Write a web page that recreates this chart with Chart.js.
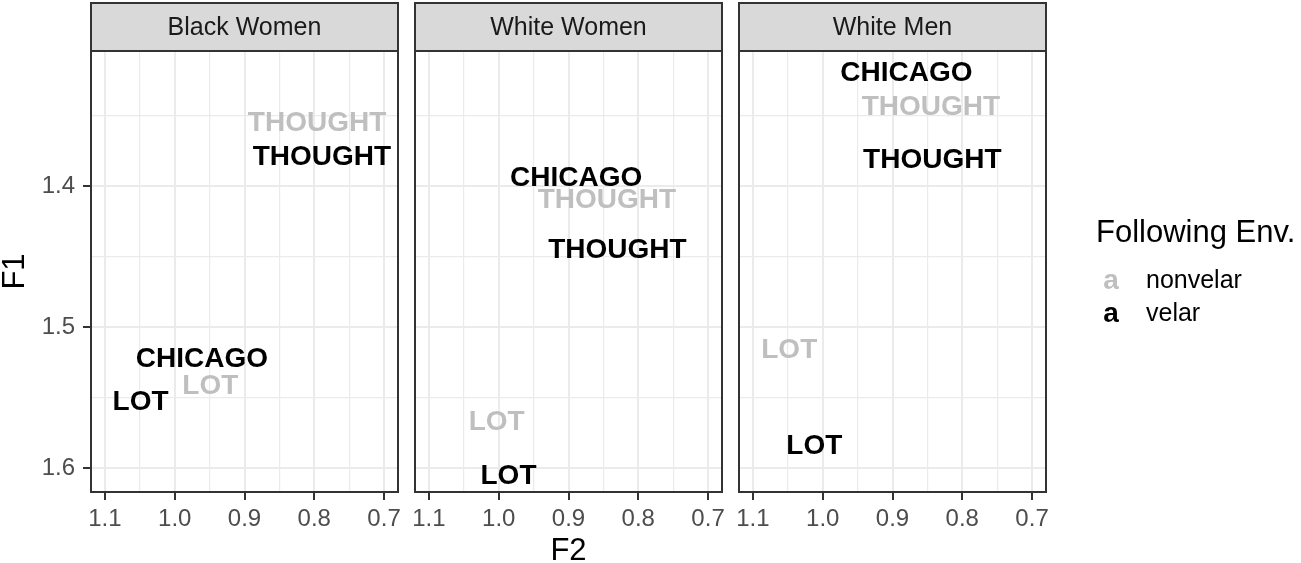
<!DOCTYPE html>
<html>
<head>
<meta charset="utf-8">
<script src="https://cdn.jsdelivr.net/npm/chart.js@4.4.1/dist/chart.umd.min.js"></script>
<style>
  body { margin: 0; background: #fff; }
  #wrap { position: relative; width: 1301px; height: 563px; overflow: hidden; }
  #wrap canvas { position: absolute; top: 0; }
</style>
</head>
<body>
<div id="wrap">
  <canvas id="bw" width="406" height="563" style="left:0px"></canvas>
  <canvas id="ww" width="324" height="563" style="left:406px"></canvas>
  <canvas id="wm" width="571" height="563" style="left:730px"></canvas>
</div>
<script>
const FONT = '"Liberation Sans", Arial, Helvetica, sans-serif';

const envNames = ['nonvelar', 'velar'];
const envColors = ['#bfbfbf', '#000000'];

const nonvelarWords = ['THOUGHT', 'LOT'];
const velarWords = ['THOUGHT', 'CHICAGO', 'LOT'];

// Black Women
const bwNonvelarF2 = [0.796, 0.949];
const bwNonvelarF1 = [1.354, 1.540];
const bwVelarF2 = [0.789, 0.961, 1.049];
const bwVelarF1 = [1.378, 1.521, 1.552];

// White Women
const wwNonvelarF2 = [0.845, 1.003];
const wwNonvelarF1 = [1.408, 1.566];
const wwVelarF2 = [0.830, 0.889, 0.986];
const wwVelarF1 = [1.444, 1.393, 1.604];

// White Men
const wmNonvelarF2 = [0.845, 1.048];
const wmNonvelarF1 = [1.342, 1.515];
const wmVelarF2 = [0.843, 0.880, 1.012];
const wmVelarF1 = [1.380, 1.318, 1.583];

const f2Ticks = [0.7, 0.8, 0.9, 1.0, 1.1];
const f2Minor = [0.75, 0.85, 0.95, 1.05];
const f1Ticks = [1.4, 1.5, 1.6];
const f1Minor = [1.35, 1.45, 1.55];

function pts(xs, ys) {
  return xs.map((x, i) => ({ x: x, y: ys[i] }));
}

// strip, panel border and word labels
const facetPlugin = {
  id: 'facet',
  beforeDraw(chart, args, o) {
    const a = chart.chartArea, ctx = chart.ctx;
    ctx.save();
    ctx.fillStyle = '#d9d9d9';
    ctx.fillRect(a.left, 3, a.right - a.left, a.top - 3);
    ctx.strokeStyle = '#333333';
    ctx.lineWidth = 2;
    ctx.strokeRect(a.left, 3, a.right - a.left, a.top - 3);
    ctx.fillStyle = '#1a1a1a';
    ctx.font = '25px ' + FONT;
    ctx.textAlign = 'center';
    ctx.textBaseline = 'middle';
    ctx.fillText(o.title, (a.left + a.right) / 2, (a.top + 3) / 2 + 1);
    ctx.restore();
  },
  afterDatasetsDraw(chart) {
    const ctx = chart.ctx;
    ctx.save();
    ctx.font = 'bold 28px ' + FONT;
    ctx.textAlign = 'center';
    // centre the capitals on the point
    ctx.textBaseline = 'alphabetic';
    const half = 28 * 0.716 / 2;
    chart.data.datasets.forEach((ds, di) => {
      const meta = chart.getDatasetMeta(di);
      ctx.fillStyle = ds.textColor;
      meta.data.forEach((el, i) => ctx.fillText(ds.words[i], el.x, el.y + half));
    });
    ctx.restore();
  },
  afterDraw(chart) {
    const a = chart.chartArea, ctx = chart.ctx;
    ctx.save();
    ctx.strokeStyle = '#333333';
    ctx.lineWidth = 2;
    ctx.strokeRect(a.left, a.top, a.right - a.left, a.bottom - a.top);
    ctx.restore();
  }
};

const legendPlugin = {
  id: 'envLegend',
  afterDraw(chart) {
    const a = chart.chartArea, ctx = chart.ctx;
    const x0 = a.right + 50;
    ctx.save();
    ctx.textBaseline = 'middle';
    ctx.textAlign = 'left';
    ctx.fillStyle = '#000';
    ctx.font = '31px ' + FONT;
    ctx.fillText('Following Env.', x0, 233);
    envNames.forEach((name, i) => {
      const y = 281 + i * 33;
      ctx.font = 'bold 28px ' + FONT;
      ctx.textAlign = 'center';
      ctx.fillStyle = envColors[i];
      ctx.fillText('a', x0 + 15, y);
      ctx.font = '25px ' + FONT;
      ctx.textAlign = 'left';
      ctx.fillStyle = '#000';
      ctx.fillText(name, x0 + 50, y);
    });
    ctx.restore();
  }
};

function makePanel(id, name, nF2, nF1, vF2, vF1, opt) {
  const isMajorX = v => f2Ticks.indexOf(v) >= 0;
  const isMajorY = v => f1Ticks.indexOf(v) >= 0;
  const plugins = [facetPlugin];
  if (opt.legend) plugins.push(legendPlugin);
  return new Chart(document.getElementById(id), {
    type: 'scatter',
    data: {
      datasets: [{
        label: 'velar',
        data: pts(vF2, vF1),
        words: velarWords,
        textColor: envColors[1],
        pointRadius: 0,
        pointHoverRadius: 0
      }, {
        label: 'nonvelar',
        data: pts(nF2, nF1),
        words: nonvelarWords,
        textColor: envColors[0],
        pointRadius: 0,
        pointHoverRadius: 0
      }]
    },
    options: {
      responsive: false,
      animation: false,
      events: [],
      layout: { padding: { top: 51, left: opt.padL, right: opt.padR, bottom: 0 } },
      plugins: {
        legend: { display: false },
        tooltip: { enabled: false },
        facet: { title: name }
      },
      scales: {
        x: {
          type: 'linear',
          reverse: true,
          min: 0.68,
          max: 1.12,
          afterBuildTicks: s => { s.ticks = f2Ticks.concat(f2Minor).sort().map(v => ({ value: v })); },
          afterFit: s => { s.height = 71; },
          border: { display: false },
          grid: {
            color: '#ebebeb',
            lineWidth: c => isMajorX(c.tick.value) ? 2 : 1.2,
            tickColor: c => isMajorX(c.tick.value) ? '#333333' : 'rgba(0,0,0,0)',
            tickWidth: 2,
            tickLength: 8
          },
          ticks: {
            autoSkip: false,
            maxRotation: 0,
            padding: 5,
            color: '#4d4d4d',
            font: { family: FONT, size: 24 },
            callback: v => isMajorX(v) ? v.toFixed(1) : ''
          },
          title: {
            display: !!opt.xTitle,
            text: 'F2',
            color: '#000',
            font: { family: FONT, size: 31, lineHeight: 0.75 },
            padding: { top: 0, bottom: 0 }
          }
        },
        y: {
          type: 'linear',
          reverse: true,
          min: 1.304,
          max: 1.617,
          afterBuildTicks: s => { s.ticks = f1Ticks.concat(f1Minor).sort().map(v => ({ value: v })); },
          afterFit: s => { s.width = opt.yAxis ? 91 : 0; },
          border: { display: false },
          grid: {
            color: '#ebebeb',
            lineWidth: c => isMajorY(c.tick.value) ? 2 : 1.2,
            tickColor: c => isMajorY(c.tick.value) ? '#333333' : 'rgba(0,0,0,0)',
            tickWidth: 2,
            tickLength: 8,
            drawTicks: !!opt.yAxis
          },
          ticks: {
            display: !!opt.yAxis,
            autoSkip: false,
            padding: 8,
            color: '#4d4d4d',
            font: { family: FONT, size: 24 },
            callback: v => isMajorY(v) ? v.toFixed(1) : ''
          },
          title: {
            display: !!opt.yAxis,
            text: 'F1',
            color: '#000',
            font: { family: FONT, size: 31, lineHeight: 0.8 },
            padding: { top: 3, bottom: 0 }
          }
        }
      }
    },
    plugins: plugins
  });
}

makePanel('bw', 'Black Women', bwNonvelarF2, bwNonvelarF1, bwVelarF2, bwVelarF1,
  { padL: 0, padR: 8, yAxis: true });
makePanel('ww', 'White Women', wwNonvelarF2, wwNonvelarF1, wwVelarF2, wwVelarF1,
  { padL: 9, padR: 8, xTitle: true });
makePanel('wm', 'White Men', wmNonvelarF2, wmNonvelarF1, wmVelarF2, wmVelarF1,
  { padL: 9, padR: 255, legend: true });
</script>
</body>
</html>
